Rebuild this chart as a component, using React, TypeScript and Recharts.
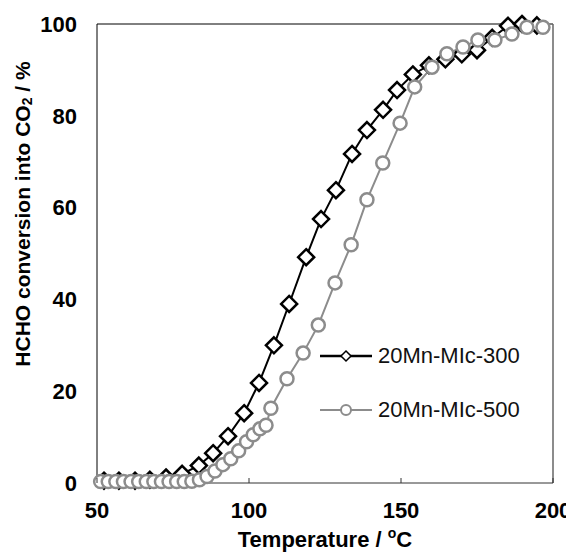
import React from 'react';
import { LineChart, Line, XAxis, YAxis, ReferenceLine, Legend } from 'recharts';

const tempsA = [52.3, 57.2, 62.5, 67.4, 72.7, 78, 83.5, 88.2, 93.1, 98.4, 103.3, 108.2, 113.2, 118.8, 123.7, 128.6, 133.9, 138.8, 144.1, 148.7, 153.9, 159.2, 164.6, 170, 175, 180, 185.2, 189.8, 194.7];
const convA = [0.5, 0.5, 0.5, 0.7, 1.2, 2.0, 3.8, 6.5, 10.2, 15.2, 21.8, 30, 39, 49.2, 57.5, 63.8, 71.7, 76.9, 81.3, 85.6, 89, 91, 92.3, 93.4, 94.3, 97, 99.6, 100, 99.7];

const tempsB = [51.2, 53.7, 56.2, 58.7, 61.2, 63.7, 66.2, 68.7, 71.2, 73.7, 76.2, 78.7, 81.2, 83.7, 86.2, 88.8, 91.4, 94, 96.6, 99.2, 101.4, 103.6, 105.6, 107.2, 112.5, 117.8, 122.8, 128.3, 133.6, 138.8, 144, 149.7, 154.5, 160.2, 165.1, 170.4, 175.3, 180.9, 186.5, 191.4, 196.7];
const convB = [0.3, 0.3, 0.3, 0.3, 0.3, 0.3, 0.3, 0.3, 0.3, 0.3, 0.3, 0.3, 0.4, 0.7, 1.4, 2.6, 4.0, 5.3, 7.0, 9.0, 10.5, 11.8, 12.6, 16.3, 22.7, 28.3, 34.4, 43.6, 51.9, 61.7, 69.7, 78.4, 86.3, 90.6, 93.5, 95, 96.5, 96.5, 97.8, 99.3, 99.3];

const seriesNames = ['20Mn-MIc-300', '20Mn-MIc-500'];
const xTicks = [50, 100, 150, 200];
const yTicks = [0, 20, 40, 60, 80, 100];

const dataA = tempsA.map((x, i) => ({ x, y: convA[i] }));
const dataB = tempsB.map((x, i) => ({ x, y: convB[i] }));

const FONT = '"Liberation Sans", Arial, sans-serif';
const GREY = '#8c8c8c';

const DiamondDot = (props: any) => {
  const { cx, cy, index } = props;
  if (cx == null || cy == null) return <g key={index} />;
  const r = 8;
  return (
    <polygon
      key={index}
      points={`${cx},${cy - r} ${cx + r},${cy} ${cx},${cy + r} ${cx - r},${cy}`}
      fill="#fff"
      stroke="#000"
      strokeWidth={2.5}
    />
  );
};

const CircleDot = (props: any) => {
  const { cx, cy, index } = props;
  if (cx == null || cy == null) return <g key={index} />;
  return <circle key={index} cx={cx} cy={cy} r={6.5} fill="#fff" stroke={GREY} strokeWidth={2.5} />;
};

const XTick = (props: any) => {
  const { x, y, payload } = props;
  return (
    <g>
      <line x1={x} y1={y} x2={x} y2={y - 5} stroke="#333" strokeWidth={1} />
      <text x={x} y={y + 27} dy="0.35em" textAnchor="middle" fontFamily={FONT} fontWeight="bold" fontSize={22} fill="#000">
        {payload.value}
      </text>
    </g>
  );
};

const LegendContent = () => (
  <div style={{ fontFamily: FONT, fontSize: 22, color: '#111' }}>
    {[0, 1].map((i) => (
      <div key={i} style={{ display: 'flex', alignItems: 'center', height: 54 }}>
        <svg width={52} height={20} style={{ display: 'block' }}>
          <line x1={0} y1={10} x2={52} y2={10} stroke={i === 0 ? '#000' : GREY} strokeWidth={i === 0 ? 2.5 : 2} />
          {i === 0 ? (
            <polygon points="26,5 31,10 26,15 21,10" fill="#fff" stroke="#000" strokeWidth={1.5} />
          ) : (
            <circle cx={26} cy={10} r={5} fill="#fff" stroke={GREY} strokeWidth={2} />
          )}
        </svg>
        <span style={{ marginLeft: 6, whiteSpace: 'nowrap' }}>{seriesNames[i]}</span>
      </div>
    ))}
  </div>
);

export default function App() {
  return (
    <LineChart width={566} height={546} margin={{ top: 16, right: 21, left: 0, bottom: 0 }}>
      <XAxis
        type="number"
        dataKey="x"
        domain={[50, 200]}
        ticks={xTicks}
        tickLine={false}
        tickSize={0}
        tickMargin={0}
        tick={<XTick />}
        height={71}
        stroke="#333"
        allowDuplicatedCategory={false}
        label={(p: any) => {
          const vb = p.viewBox || {};
          const cx = vb.x + vb.width / 2;
          return (
            <text x={cx} y={539} textAnchor="middle" fontFamily={FONT} fontWeight="bold" fontSize={22} fill="#000">
              Temperature /{' '}
              <tspan fontSize={14} dy={-9}>o</tspan>
              <tspan dy={9}>C</tspan>
            </text>
          );
        }}
      />
      <YAxis
        type="number"
        domain={[0, 100]}
        ticks={yTicks}
        tickLine={false}
        tickSize={0}
        tickMargin={20}
        width={89}
        stroke="#000"
        tick={{ fontFamily: FONT, fontWeight: 'bold', fontSize: 22, fill: '#000' }}
        label={() => (
          <text
            x={14}
            y={206}
            transform="rotate(-90 14 206)"
            textAnchor="middle"
            dominantBaseline="central"
            fontFamily={FONT}
            fontWeight="bold"
            fontSize={21}
            fill="#000"
          >
            HCHO conversion into CO
            <tspan fontSize={14} dy={5}>2</tspan>
            <tspan dy={-5}> / %</tspan>
          </text>
        )}
      />
      <ReferenceLine y={100} stroke="#000" strokeWidth={1} />
      <ReferenceLine x={200} stroke="#666" strokeWidth={1.5} />
      <Legend
        layout="vertical"
        align="center"
        verticalAlign="middle"
        content={<LegendContent />}
        wrapperStyle={{ left: 312, top: 321, width: 230 }}
      />
      <Line
        data={dataA}
        dataKey="y"
        name={seriesNames[0]}
        stroke="#000"
        strokeWidth={2}
        dot={DiamondDot}
        activeDot={false}
        isAnimationActive={false}
      />
      <Line
        data={dataB}
        dataKey="y"
        name={seriesNames[1]}
        stroke={GREY}
        strokeWidth={2}
        dot={CircleDot}
        activeDot={false}
        isAnimationActive={false}
      />
    </LineChart>
  );
}
